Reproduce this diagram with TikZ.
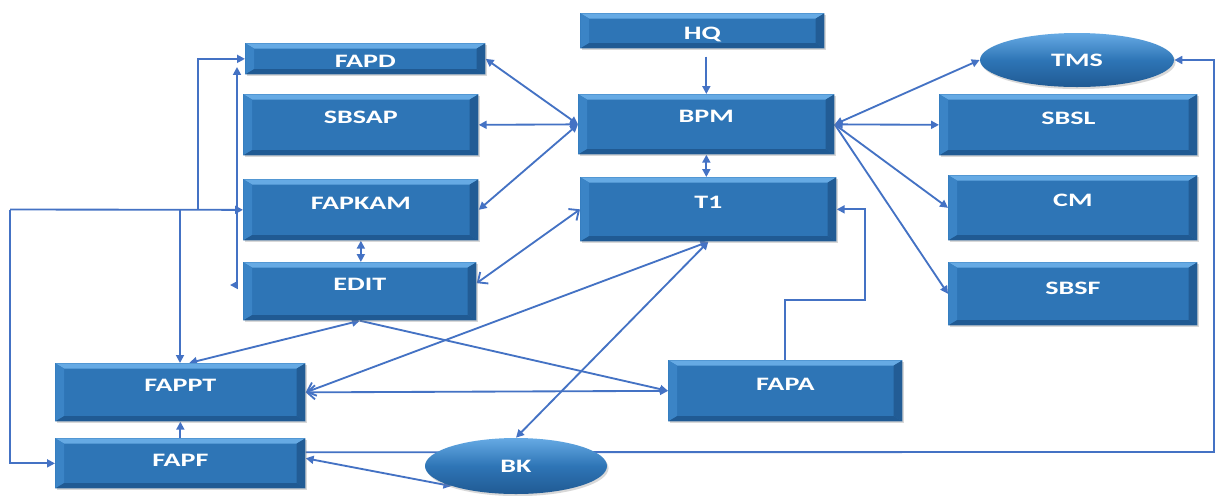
\documentclass[tikz,border=0pt]{standalone}
\usepackage{fontspec}
\usepackage{graphicx}
\setmainfont{Carlito}
\usetikzlibrary{arrows.meta,shapes.geometric,calc,shadows}
\pgfdeclarelayer{back}
\pgfdeclarelayer{bg}
\pgfsetlayers{back,bg,main}
\definecolor{boxblue}{HTML}{2E75B6}
\definecolor{bvtop}{HTML}{66AAE4}
\definecolor{bvleft}{HTML}{3B84C6}
\definecolor{bvright}{HTML}{225C95}
\definecolor{bvbot}{HTML}{205A93}
\definecolor{lineblue}{HTML}{4472C4}
\newcommand\lab[1]{\scalebox{1.48}[1]{\bfseries #1}}
\tikzset{
  bevelbox/.style={rectangle, inner sep=0pt, fill=boxblue, text=white,
    font=\fontsize{10.8}{12}\selectfont,
    drop shadow={opacity=0.3, shadow xshift=0.9pt, shadow yshift=-1.2pt},
    path picture={
      \coordinate (pa) at (path picture bounding box.south west);
      \coordinate (pb) at (path picture bounding box.north east);
      \fill[bvtop] (pa|-pb) -- (pb) -- ($(pb)+(-5pt,-3pt)$) -- ($(pa|-pb)+(5pt,-3pt)$) -- cycle;
      \fill[bvleft] (pa|-pb) -- ($(pa|-pb)+(5pt,-3pt)$) -- ($(pa)+(5pt,3pt)$) -- (pa) -- cycle;
      \fill[bvright] (pb) -- ($(pb)+(-5pt,-3pt)$) -- ($(pb|-pa)+(-5pt,3pt)$) -- (pb|-pa) -- cycle;
      \fill[bvbot] (pa) -- ($(pa)+(5pt,3pt)$) -- ($(pb|-pa)+(-5pt,3pt)$) -- (pb|-pa) -- cycle;
    }},
  bevellipse/.style={ellipse, inner sep=0pt, text=white,
    font=\fontsize{10.8}{12}\selectfont,
    top color=bvtop, bottom color=bvbot, middle color=boxblue,
    drop shadow={opacity=0.3, shadow xshift=0.9pt, shadow yshift=-1.2pt}},
  conn/.style={draw=lineblue, line width=1.05pt},
  tip/.tip={Triangle[length=4.5pt,width=4.5pt]},
  otip/.tip={Straight Barb[length=4.5pt,width=8pt]},
}
\newcommand\pbox[7]{%
  \pgfmathsetmacro\bxw{(#4-#2)*0.02}%
  \pgfmathsetmacro\bxh{(#6-#3)*0.02}%
  \pgfmathsetmacro\bxd{(#5-#6)*0.02}%
  \node[bevelbox, anchor=north west, minimum width=\bxw cm, text height=\bxh cm, text depth=\bxd cm] (#1) at (#2,#3) {\lab{#7}};%
}
\newcommand\pell[6]{%
  \pgfmathsetmacro\ew{#4*0.02}%
  \pgfmathsetmacro\eh{#5*0.02}%
  \node[bevellipse, minimum width=\ew cm, minimum height=\eh cm, text height=0.26cm, text depth=0pt] (#1) at (#2,#3) {\lab{#6}};%
}
\begin{document}
\begin{tikzpicture}[x=0.02cm, y=-0.02cm]
\begin{pgfonlayer}{back}
\useasboundingbox[fill=white] (0,0) rectangle (1215,495);
\end{pgfonlayer}
% boxes
\pbox{FAPD}{245}{43}{485}{74}{67}{FAPD}
\pbox{SBSAP}{243}{94}{478}{155}{123}{SBSAP}
\pbox{FAPKAM}{243}{179}{478}{240}{209}{FAPKAM}
\pbox{EDIT}{243}{262}{476}{320}{290}{EDIT}
\pbox{HQ}{580}{13}{824}{48}{39}{HQ}
\pbox{BPM}{578}{94}{834}{154}{122}{BPM}
\pbox{T1}{580}{177}{836}{241}{208}{T1}
\pbox{SBSL}{939}{94}{1197}{155}{124}{SBSL}
\pbox{CM}{948}{175}{1197}{240}{206}{CM}
\pbox{SBSF}{948}{262}{1197}{325}{294}{SBSF}
\pbox{FAPPT}{55}{363}{305}{421}{391}{FAPPT}
\pbox{FAPA}{668}{360}{902}{421}{390}{FAPA}
\pbox{FAPF}{55}{438}{305}{488}{466}{FAPF}
\pell{TMS}{1077}{60}{194}{54}{TMS}
\pell{BK}{516}{466}{182}{56}{BK}
% helper coordinates
\coordinate (jL) at (10,209.5);
\coordinate (jA) at (180,209.5);
\coordinate (jB) at (198,209.5);
\coordinate (fapdL) at (237,67);
\coordinate (editL) at (230,285);
\coordinate (rc) at (1214,452);
\coordinate (fa1) at (865,300);
\coordinate (hqB) at ($(HQ.south -| BPM.north)+(0,8)$);
\coordinate (fapfA) at ($(FAPF.north east)!0.28!(FAPF.south east)$);
\coordinate (fapfB) at ($(FAPF.north east)!0.4!(FAPF.south east)$);
\coordinate (editE) at ($(EDIT.north east)!0.36!(EDIT.south east)$);
% connectors
\begin{pgfonlayer}{bg}
\draw[conn, -tip] (hqB) -- (BPM.north);
\draw[conn, tip-tip] (BPM.south) -- (BPM.south |- T1.north);
\draw[conn, tip-tip] (FAPKAM.south) -- (FAPKAM.south |- EDIT.north);
\draw[conn, tip-tip] (FAPD.east) -- (BPM.west);
\draw[conn, tip-tip] (SBSAP.east) -- (BPM.west);
\draw[conn, tip-tip] (FAPKAM.east) -- (BPM.west);
\draw[conn, otip-otip] (editE) -- (T1.west);
\draw[conn, tip-tip] (BPM.east) -- (TMS.west);
\draw[conn, tip-tip] (BPM.east) -- (SBSL.west);
\draw[conn, -tip] (BPM.east) -- (CM.west);
\draw[conn, -tip] (BPM.east) -- (SBSF.west);
\draw[conn, tip-tip] (EDIT.south) -- ([xshift=5pt]FAPPT.north);
\draw[conn, -tip] (EDIT.south) -- (FAPA.west);
\draw[conn, otip-tip] (FAPPT.east) -- (FAPA.west);
\draw[conn, otip-tip] (FAPPT.east) -- (T1.south);
\draw[conn, tip-tip] (BK.north) -- (T1.south);
\draw[conn, -tip] (FAPA.north) |- (fa1) |- (T1.east);
\draw[conn, tip-tip] (fapfB) -- (BK.south west);
\draw[conn, -tip] (FAPF.north) -- (FAPPT.south);
\draw[conn, -tip] (fapfA) -- (rc) |- (TMS.east);
% left loop
\draw[conn, -tip] (jL) -- (FAPKAM.west);
\draw[conn, -tip] (jL) |- (FAPF.west);
\draw[conn, -tip] (jA) -- (jA |- FAPPT.north);
\draw[conn, -tip] (jB) |- (FAPD.west);
\draw[conn, tip-tip] (fapdL) |- (editL);
\end{pgfonlayer}
\end{tikzpicture}
\end{document}
